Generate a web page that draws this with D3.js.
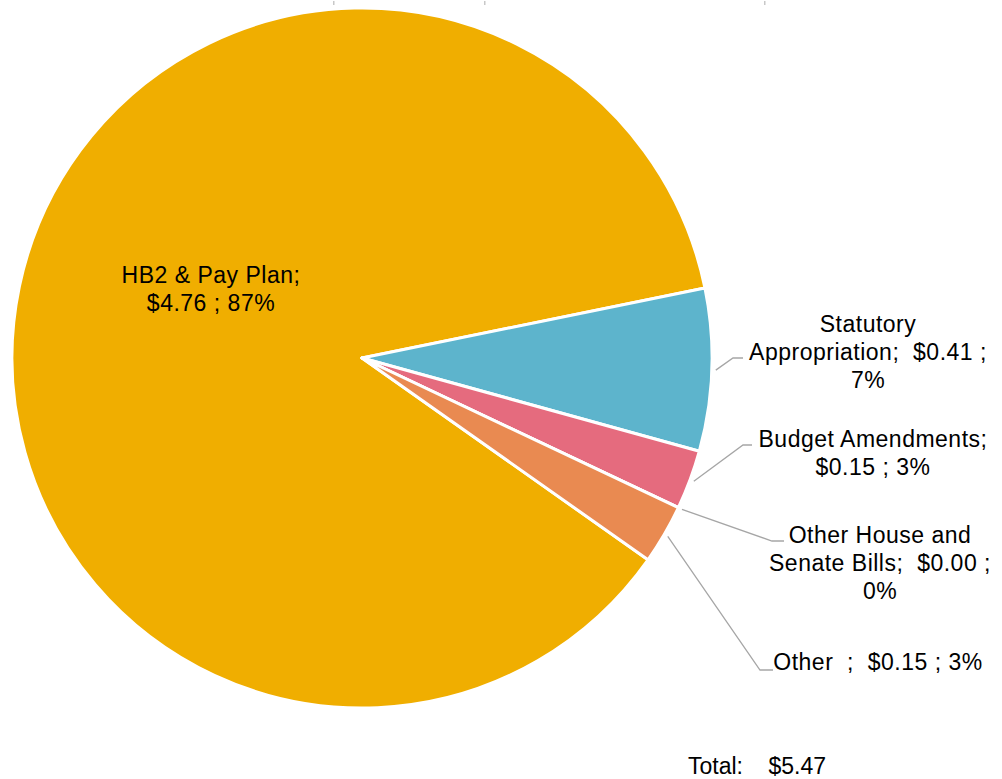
<!DOCTYPE html>
<html>
<head>
<meta charset="utf-8">
<script src="https://cdn.jsdelivr.net/npm/d3@7"></script>
<style>
  html, body { margin: 0; padding: 0; background: #fff; }
  svg { display: block; }
  text { font-family: "Liberation Sans", Arial, sans-serif; font-size: 23px; fill: #000; white-space: pre; letter-spacing: 0.5px; }
  text.total { letter-spacing: 0; }
</style>
</head>
<body>
<svg id="chart" width="1002" height="779"></svg>
<script>
// ---- data ----
const categories = ["HB2 & Pay Plan", "Statutory Appropriation", "Budget Amendments", "Other House and Senate Bills", "Other"];
const values = [4.76, 0.41, 0.15, 0.00, 0.15];
const percents = ["87%", "7%", "3%", "0%", "3%"];
const labelLines = [
  ["HB2 & Pay Plan;", "$4.76 ; 87%"],
  ["Statutory", "Appropriation;  $0.41 ;", "7%"],
  ["Budget Amendments;", "$0.15 ; 3%"],
  ["Other House and", "Senate Bills;  $0.00 ;", "0%"],
  ["Other  ;  $0.15 ; 3%"]
];
const totalLabel = "Total:    $5.47";
const colors = ["#F0AE00", "#5DB4CC", "#E56B7E", "#E98A51", "#E98A51"];

// ---- layout ----
const W = 1002, H = 779;
const cx = 362, cy = 358, R = 350;
const startDeg = 125.2;
// label centers (x, y of first line center) and leader line bend / end points
const labelPos = [
  {x: 211, y: 275, leader: null},
  {x: 868, y: 324, leader: [[733, 358], [743, 358]]},
  {x: 873, y: 439, leader: [[743, 445], [752, 445]]},
  {x: 880, y: 535, leader: [[772, 541], [784, 541]]},
  {x: 878, y: 662, leader: [[760, 670], [773, 670]]}
];
const lineH = 27.8;

const svg = d3.select("#chart");

// tiny tick artifacts at the top
[333, 484, 764].forEach(x => {
  svg.append("rect").attr("x", x).attr("y", 1).attr("width", 1.5).attr("height", 4).attr("fill", "#c8c8c8");
});

const pie = d3.pie().sort(null).value(d => d)
  .startAngle(startDeg * Math.PI / 180)
  .endAngle((startDeg + 360) * Math.PI / 180);
const arcs = pie(values);
const arc = d3.arc().innerRadius(0).outerRadius(R);

const g = svg.append("g").attr("transform", `translate(${cx},${cy})`);
g.selectAll("path.slice").data(arcs).enter().append("path")
  .attr("class", "slice")
  .attr("d", arc)
  .attr("fill", (d, i) => colors[i])
  .attr("stroke", "#fff")
  .attr("stroke-width", 3)
  .attr("stroke-linejoin", "round");

// leader lines
const line = d3.line();
arcs.forEach((a, i) => {
  const lp = labelPos[i];
  if (!lp.leader) return;
  const mid = (a.startAngle + a.endAngle) / 2;
  const r0 = R + 4;
  const p0 = [cx + r0 * Math.sin(mid), cy - r0 * Math.cos(mid)];
  svg.append("path")
    .attr("d", line([p0, ...lp.leader]))
    .attr("fill", "none")
    .attr("stroke", "#a6a6a6")
    .attr("stroke-width", 1.3);
});

// labels
labelLines.forEach((lines, i) => {
  const lp = labelPos[i];
  const t = svg.append("text").attr("text-anchor", "middle");
  lines.forEach((s, k) => {
    t.append("tspan").attr("x", lp.x).attr("y", lp.y + k * lineH)
      .attr("dy", "0.35em").text(s);
  });
});

svg.append("text").attr("class", "total").attr("x", 688).attr("y", 766).attr("dy", "0.35em").text(totalLabel);
</script>
</body>
</html>
